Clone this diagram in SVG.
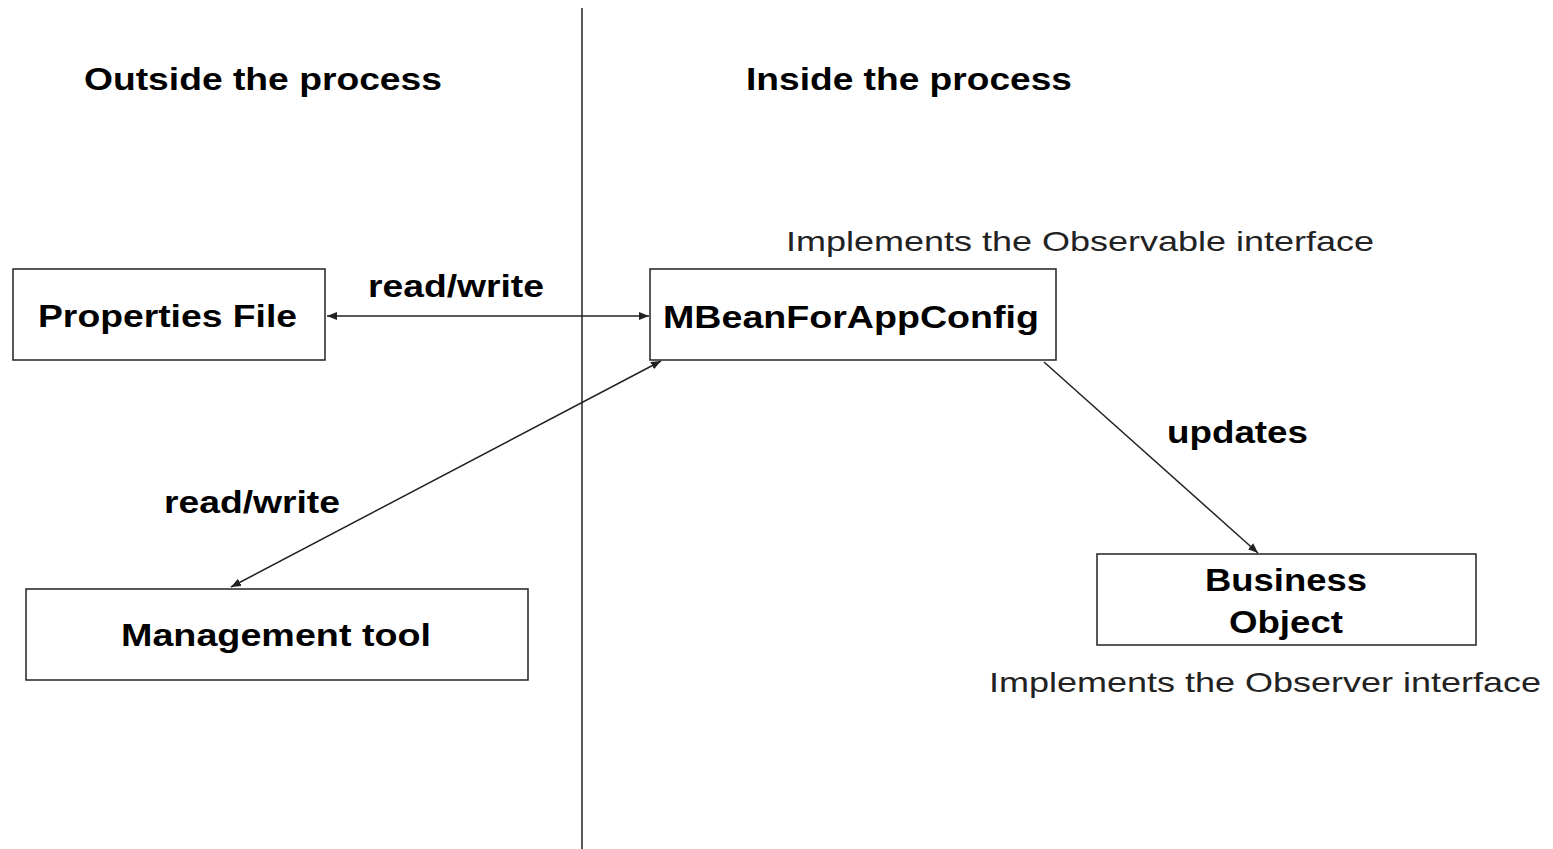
<svg xmlns="http://www.w3.org/2000/svg" width="1553" height="849" viewBox="0 0 1553 849">
<style>
.box{fill:#fff;stroke:#222;stroke-width:1.5}
.b{font-family:"Liberation Sans",Arial,sans-serif;font-weight:bold;fill:#000}
.n{font-family:"Liberation Sans",Arial,sans-serif;font-weight:normal;fill:#222}
.c{stroke:#222;stroke-width:1.5;fill:none}
</style>
<defs>
<marker id="ah" viewBox="0 0 10 10" refX="10" refY="5" markerWidth="10" markerHeight="10" markerUnits="userSpaceOnUse" orient="auto-start-reverse">
<path d="M0,1 L10,5 L0,9 z" fill="#222"/>
</marker>
</defs>
<rect width="1553" height="849" fill="#fff"/>
<line x1="582" y1="8" x2="582" y2="849" class="c"/>
<text class="b" x="84" y="90" font-size="31" textLength="358" lengthAdjust="spacingAndGlyphs">Outside the process</text>
<text class="b" x="746" y="90" font-size="31" textLength="326" lengthAdjust="spacingAndGlyphs">Inside the process</text>
<g id="connectors">
<line class="c" x1="327" y1="316" x2="649" y2="316" marker-start="url(#ah)" marker-end="url(#ah)"/>
<line class="c" x1="661" y1="361" x2="231" y2="587" marker-start="url(#ah)" marker-end="url(#ah)"/>
<line class="c" x1="1044" y1="362" x2="1258" y2="553" marker-end="url(#ah)"/>
<text class="b" x="368" y="297" font-size="31" textLength="176" lengthAdjust="spacingAndGlyphs">read/write</text>
<text class="b" x="164" y="513" font-size="31" textLength="176" lengthAdjust="spacingAndGlyphs">read/write</text>
<text class="b" x="1167" y="443" font-size="31" textLength="141" lengthAdjust="spacingAndGlyphs">updates</text>
</g>
<g id="properties-file">
<rect class="box" x="13" y="269" width="312" height="91"/>
<text class="b" x="38" y="327" font-size="32" textLength="259" lengthAdjust="spacingAndGlyphs">Properties File</text>
</g>
<g id="mbean">
<rect class="box" x="650" y="269" width="406" height="91"/>
<text class="b" x="663" y="328" font-size="32" textLength="376" lengthAdjust="spacingAndGlyphs">MBeanForAppConfig</text>
<text class="n" x="786" y="251" font-size="28" textLength="588" lengthAdjust="spacingAndGlyphs">Implements the Observable interface</text>
</g>
<g id="management-tool">
<rect class="box" x="26" y="589" width="502" height="91"/>
<text class="b" x="121" y="646" font-size="32" textLength="310" lengthAdjust="spacingAndGlyphs">Management tool</text>
</g>
<g id="business-object">
<rect class="box" x="1097" y="554" width="379" height="91"/>
<text class="b" x="1205" y="591" font-size="32" textLength="162" lengthAdjust="spacingAndGlyphs">Business</text>
<text class="b" x="1229" y="633" font-size="32" textLength="114" lengthAdjust="spacingAndGlyphs">Object</text>
<text class="n" x="989" y="692" font-size="28" textLength="552" lengthAdjust="spacingAndGlyphs">Implements the Observer interface</text>
</g>
</svg>
